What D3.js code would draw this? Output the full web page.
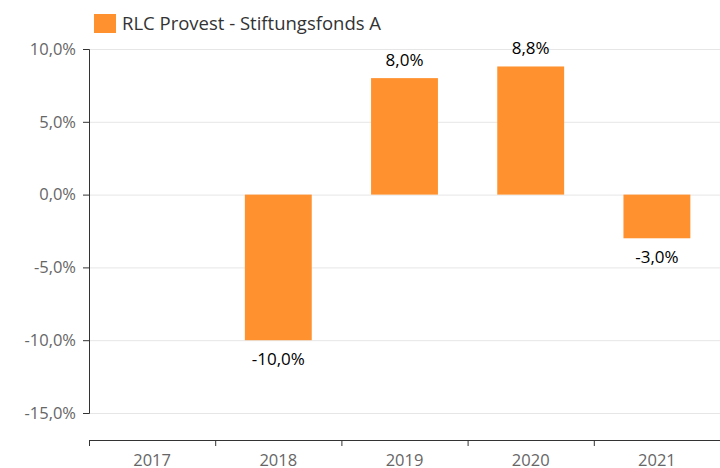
<!DOCTYPE html>
<html>
<head>
<meta charset="utf-8">
<script src="https://cdn.jsdelivr.net/npm/d3@7"></script>
<style>
  body { margin: 0; background: #fff; }
  svg { font-family: 'Open Sans', sans-serif; }
</style>
</head>
<body>
<svg width="720" height="468"></svg>
<script>
const years = ['2017', '2018', '2019', '2020', '2021']
const values = [null, -10.0, 8.0, 8.8, -3.0]
const yTicks = [10, 5, 0, -5, -10, -15]
const seriesName = 'RLC Provest - Stiftungsfonds A'
const barColor = '#ff922e'

const svg = d3.select('svg')
const width = +svg.attr('width')
const height = +svg.attr('height')

const margin = { top: 49, right: 0, bottom: 55, left: 89 }
const innerWidth = width - margin.left - margin.right
const innerHeight = height - margin.top - margin.bottom

const fmt = v => d3.format('.1f')(v).replace('.', ',').replace('−', '-') + '%'

const data = years.map((y, i) => ({ year: y, value: values[i] }))

const xScale = d3.scaleBand()
  .domain(years)
  .range([0, innerWidth])
  .paddingInner(0.47)
  .paddingOuter(0.235)

const yScale = d3.scaleLinear()
  .domain([-15, 10])
  .range([innerHeight, 0])

const g = svg.append('g')
  .attr('transform', `translate(${margin.left}, ${margin.top})`)

// grid
g.append('g').selectAll('line').data(yTicks)
  .enter().append('line')
  .attr('x1', 0).attr('x2', innerWidth)
  .attr('y1', d => yScale(d) + 0.5).attr('y2', d => yScale(d) + 0.5)
  .attr('stroke', '#e6e6e6')

// y axis
const yAxis = d3.axisLeft(yScale)
  .tickValues(yTicks)
  .tickFormat(fmt)
  .tickSize(6)
  .tickPadding(7)
const yAxisG = g.append('g').call(yAxis)
yAxisG.selectAll('path, line').attr('stroke', '#333')
yAxisG.selectAll('text').style('font-size', '16.5px').style('fill', '#666')
  .style('font-family', "'Open Sans', sans-serif")

// bars
g.selectAll('rect').data(data.filter(d => d.value !== null))
  .enter().append('rect')
  .attr('x', d => xScale(d.year))
  .attr('width', xScale.bandwidth())
  .attr('y', d => yScale(Math.max(0, d.value)))
  .attr('height', d => Math.abs(yScale(d.value) - yScale(0)))
  .attr('fill', barColor)

// value labels
g.selectAll('.val').data(data.filter(d => d.value !== null))
  .enter().append('text')
  .attr('class', 'val')
  .attr('x', d => xScale(d.year) + xScale.bandwidth() / 2)
  .attr('y', d => d.value >= 0 ? yScale(d.value) - 12 : yScale(d.value) + 25)
  .attr('text-anchor', 'middle')
  .style('font-size', '17px')
  .style('fill', '#000')
  .text(d => fmt(d.value))

// x axis: boundary ticks
const xAxisY = innerHeight + 27
const bScale = d3.scaleLinear().domain([0, years.length]).range([0, innerWidth])
const xTickAxis = d3.axisBottom(bScale)
  .tickValues(d3.range(years.length + 1))
  .tickSize(6)
  .tickSizeOuter(6)
const xTickG = g.append('g')
  .attr('transform', `translate(0, ${xAxisY})`)
  .call(xTickAxis)
xTickG.selectAll('text').remove()
xTickG.selectAll('path, line').attr('stroke', '#333')

const xAxis = d3.axisBottom(xScale).tickSize(0).tickPadding(14)
const xAxisG = g.append('g')
  .attr('transform', `translate(0, ${xAxisY})`)
  .call(xAxis)
xAxisG.select('.domain').remove()
xAxisG.selectAll('text').style('font-size', '16.5px').style('fill', '#666')
  .style('font-family', "'Open Sans', sans-serif")

// legend
const legend = svg.append('g').attr('transform', 'translate(94, 14)')
legend.append('rect')
  .attr('width', 22).attr('height', 19)
  .attr('fill', barColor)
legend.append('text')
  .attr('x', 28).attr('y', 16)
  .style('font-size', '18.5px')
  .style('fill', '#333')
  .text(seriesName)
</script>
</body>
</html>
